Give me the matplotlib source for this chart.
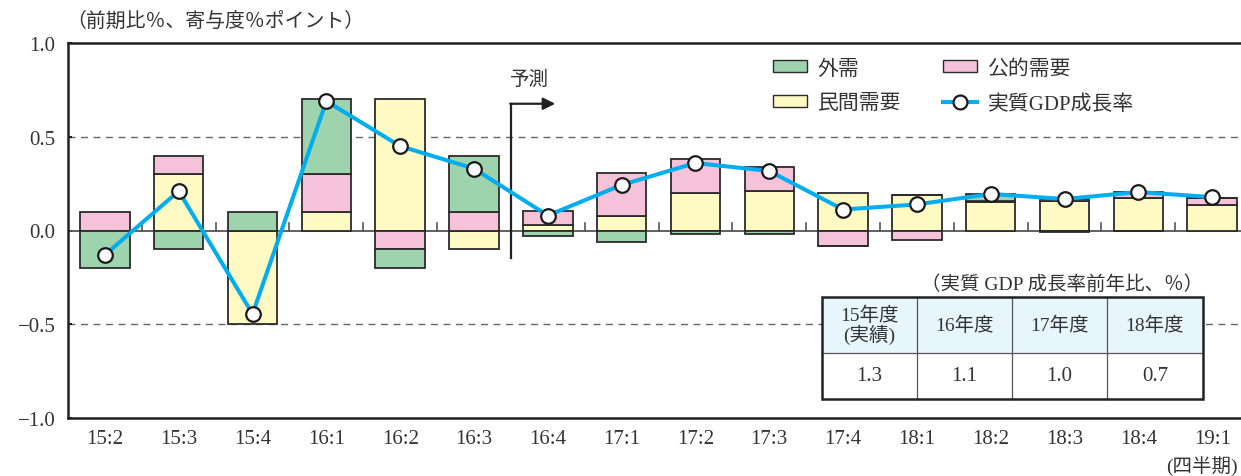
import matplotlib
matplotlib.use("Agg")
import matplotlib.pyplot as plt
from matplotlib.patches import Patch
from matplotlib.lines import Line2D
import numpy as np

plt.rcParams['font.family'] = ['Liberation Serif', 'Noto Sans CJK JP', 'DejaVu Sans']

categories = ["15:2", "15:3", "15:4", "16:1", "16:2", "16:3", "16:4", "17:1",
              "17:2", "17:3", "17:4", "18:1", "18:2", "18:3", "18:4", "19:1"]
private_demand = [0.0, 0.3, -0.5, 0.1, 0.7, -0.1, 0.03, 0.08,
                  0.2, 0.21, 0.2, 0.19, 0.15, 0.155, 0.175, 0.135]
public_demand = [0.1, 0.1, 0.0, 0.2, -0.1, 0.1, 0.075, 0.225,
                 0.18, 0.13, -0.08, -0.05, 0.01, 0.015, 0.03, 0.04]
external_demand = [-0.2, -0.1, 0.1, 0.4, -0.1, 0.3, -0.03, -0.06,
                   -0.02, -0.02, -0.005, 0.0, 0.035, -0.01, -0.005, 0.0]
gdp_growth = [-0.13, 0.21, -0.445, 0.69, 0.45, 0.33, 0.08, 0.243,
              0.36, 0.317, 0.112, 0.139, 0.195, 0.168, 0.205, 0.178]

table_headers = ["15年度\n(実績)", "16年度", "17年度", "18年度"]
table_values = ["1.3", "1.1", "1.0", "0.7"]

c_green = "#9dd3ad"
c_pink = "#f6c2da"
c_yellow = "#fff9c4"
c_line = "#00aeef"
c_edge = "#2b2b2b"
c_text = "#333333"

fig = plt.figure(figsize=(12.41, 4.77), dpi=100)
ax = fig.add_axes([68/1241, 1-419/477, 1-68/1241, (419-44)/477])

x = np.arange(len(categories))
w = 0.67
pos_base = np.zeros(len(x))
neg_base = np.zeros(len(x))
for vals, col in [(private_demand, c_yellow), (public_demand, c_pink), (external_demand, c_green)]:
    v = np.array(vals)
    base = np.where(v >= 0, pos_base, neg_base)
    ax.bar(x, v, w, bottom=base, color=col, edgecolor=c_edge, linewidth=1.3, zorder=3)
    pos_base = pos_base + np.where(v >= 0, v, 0)
    neg_base = neg_base + np.where(v < 0, v, 0)

ax.plot(x, gdp_growth, color=c_line, lw=2.9, marker='o', ms=10.5,
        mfc='white', mec='#1a1a1a', mew=1.6, zorder=5)

ax.axhline(0, color='#555555', lw=1.3, zorder=2)
for yv in (0.5, -0.5):
    ax.axhline(yv, color='#666666', lw=1.0, ls=(0, (5, 4)), zorder=1)
# small ticks on zero line between quarters
for k in range(len(x) - 1):
    ax.plot([k + 0.5, k + 0.5], [0, 0.04], color='#555555', lw=1.2, zorder=2)

ax.set_xlim(-0.5, 15.39)
ax.set_ylim(-1.0, 1.0)
ax.set_xticks(x)
ax.set_xticklabels(categories, fontsize=15, color=c_text)
ax.set_yticks([1.0, 0.5, 0.0, -0.5, -1.0])
ax.set_yticklabels(["1.0", "0.5", "0.0", "\u22120.5", "\u22121.0"], fontsize=15, color=c_text)
ax.tick_params(axis='x', length=0, pad=8)
ax.tick_params(axis='y', direction='in', length=3, width=1.2, pad=9)
ax.spines['right'].set_visible(False)
for s in ('left', 'top', 'bottom'):
    ax.spines[s].set_linewidth(1.8)
    ax.spines[s].set_color('#222222')

# forecast marker
ax.plot([5.5, 5.5], [-0.146, 0.676], color='#222222', lw=1.6, zorder=4)
ax.annotate("", xy=(6.1, 0.676), xytext=(5.49, 0.676),
            arrowprops=dict(arrowstyle='-|>', color='#222222', lw=1.6,
                            mutation_scale=18, shrinkA=0, shrinkB=0), zorder=4)
ax.text(5.75, 0.81, "予測", fontsize=14, ha='center', va='center', color=c_text)

# titles
fig.text(66/1241, 1-22/477, "（前期比％、寄与度％ポイント）", fontsize=14.3, ha='left', va='center', color=c_text)
fig.text(1238/1241, 1-466/477, "(四半期)", fontsize=14, ha='right', va='center', color=c_text)

# legend
handles = [Patch(facecolor=c_green, edgecolor=c_edge, label="外需"),
           Patch(facecolor=c_yellow, edgecolor=c_edge, label="民間需要"),
           Patch(facecolor=c_pink, edgecolor=c_edge, label="公的需要"),
           Line2D([0], [0], color=c_line, lw=2.9, marker='o', ms=10, mfc='white',
                  mec='#1a1a1a', mew=1.6, label="実質GDP成長率")]
leg = fig.legend(handles=handles, ncol=2, loc='upper left', bbox_to_anchor=(773/1241, 1-60/477),
                 bbox_transform=fig.transFigure, borderpad=0, borderaxespad=0,
                 frameon=False, fontsize=15, handlelength=1.65, handleheight=0.5,
                 columnspacing=2.0, labelspacing=0.75, handletextpad=0.5)
for t in leg.get_texts():
    t.set_color(c_text)

# table
tb_l, tb_r, tb_t, tb_m, tb_b = 822, 1203, 298, 354, 400
col_edges = [822, 917, 1012, 1107, 1203]
tax = fig.add_axes([0, 0, 1, 1], facecolor='none')
tax.set_xlim(0, 1241)
tax.set_ylim(477, 0)
tax.axis('off')
tax.add_patch(plt.Rectangle((tb_l, tb_t), tb_r - tb_l, tb_m - tb_t, facecolor='#e7f5fc', edgecolor='none', zorder=1))
tax.add_patch(plt.Rectangle((tb_l, tb_m), tb_r - tb_l, tb_b - tb_m, facecolor='white', edgecolor='none', zorder=1))
for cx in col_edges[1:-1]:
    tax.plot([cx, cx], [tb_t, tb_b], color='#555555', lw=0.9, zorder=2)
tax.plot([tb_l, tb_r], [tb_m, tb_m], color='#555555', lw=0.9, zorder=2)
tax.add_patch(plt.Rectangle((tb_l, tb_t), tb_r - tb_l, tb_b - tb_t, facecolor='none', edgecolor='#222222', lw=1.8, zorder=3))
for i in range(4):
    cx = (col_edges[i] + col_edges[i + 1]) / 2
    tax.text(cx, (tb_t + tb_m) / 2, table_headers[i], fontsize=14, ha='center', va='center',
             color=c_text, linespacing=1.0)
    tax.text(cx, (tb_m + tb_b) / 2, table_values[i], fontsize=15, ha='center', va='center', color=c_text)
tax.text(1062, 285, "（実質 GDP 成長率前年比、％）", fontsize=14, ha='center', va='center', color=c_text)

fig.savefig("out.png", dpi=100)
